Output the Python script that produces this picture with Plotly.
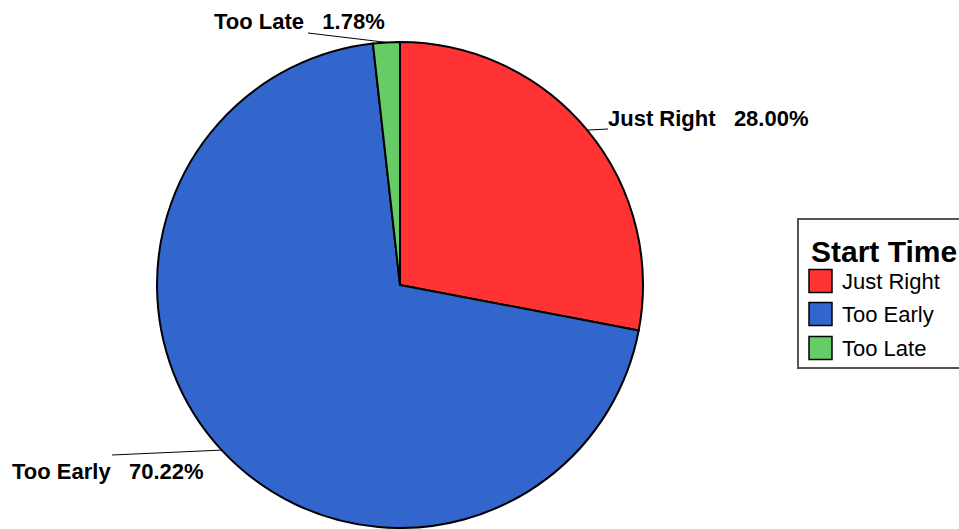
import math
import plotly.graph_objects as go

# ---- data ----
categories = ["Just Right", "Too Early", "Too Late"]
counts = [63, 158, 4]
colors = ["#FF3333", "#3366CC", "#66CC66"]
legend_title = "Start Time"

W, H = 959, 529
total = sum(counts)
pcts = [c / total * 100 for c in counts]

# pie geometry (pixels)
cx, cy, r = 400, 285, 243


def px(x):
    return x / W


def py(y):
    return 1 - y / H


fig = go.Figure()
fig.add_trace(go.Pie(
    labels=categories,
    values=counts,
    marker=dict(colors=colors, line=dict(color="black", width=2)),
    sort=False,
    direction="clockwise",
    rotation=0,
    textinfo="none",
    hoverinfo="label+percent",
    showlegend=False,
    domain=dict(x=[px(cx - r), px(cx + r)], y=[py(cy + r), py(cy - r)]),
))

# label styling / positions (pixels)
label_pos = {
    "Just Right": dict(text_xy=(708, 118), outer=(608, 129)),
    "Too Early": dict(text_xy=(108, 471), outer=(112, 455)),
    "Too Late": dict(text_xy=(299, 21), outer=(308, 33)),
}

shapes = []
annotations = []
cum = 0.0
for cat, val, pct in zip(categories, counts, pcts):
    mid = (cum + val / 2) / total * 2 * math.pi
    cum += val
    ex = cx + r * math.sin(mid)
    ey = cy - r * math.cos(mid)
    lp = label_pos[cat]
    ox, oy = lp["outer"]
    shapes.append(dict(type="line", xref="paper", yref="paper",
                       x0=px(ex), y0=py(ey), x1=px(ox), y1=py(oy),
                       line=dict(color="black", width=1)))
    tx, ty = lp["text_xy"]
    annotations.append(dict(
        x=px(tx), y=py(ty), xref="paper", yref="paper",
        xanchor="center", yanchor="middle", showarrow=False,
        text=f"<b>{cat}\u00a0\u00a0\u00a0{pct:.2f}%</b>",
        font=dict(family="Liberation Sans, Arial", size=22, color="black"),
    ))

# manual legend
lx0, ly0, lx1, ly1 = 798, 219, 963, 368
shapes.append(dict(type="rect", xref="paper", yref="paper",
                   x0=px(lx0), y0=py(ly1), x1=px(lx1), y1=py(ly0),
                   line=dict(color="#555555", width=2), fillcolor="white", layer="below"))
annotations.append(dict(
    x=px(809), y=py(251), xref="paper", yref="paper", xanchor="left", yanchor="middle",
    showarrow=False, text=f"<b>{legend_title}</b>",
    font=dict(family="Liberation Sans, Arial", size=30, color="black")))
item_y = [281, 314, 348]
sq = 23
for cat, col, yy in zip(categories, colors, item_y):
    shapes.append(dict(type="rect", xref="paper", yref="paper",
                       x0=px(809), x1=px(809 + sq), y0=py(yy + sq / 2), y1=py(yy - sq / 2),
                       fillcolor=col, line=dict(color="black", width=1.5)))
    annotations.append(dict(
        x=px(840), y=py(yy), xref="paper", yref="paper", xanchor="left", yanchor="middle",
        showarrow=False, text=cat,
        font=dict(family="Liberation Sans, Arial", size=22, color="black")))

fig.update_layout(
    width=W, height=H,
    margin=dict(l=0, r=0, t=0, b=0),
    paper_bgcolor="white", plot_bgcolor="white",
    shapes=shapes, annotations=annotations,
    showlegend=False,
)
fig.write_html("out.html")
